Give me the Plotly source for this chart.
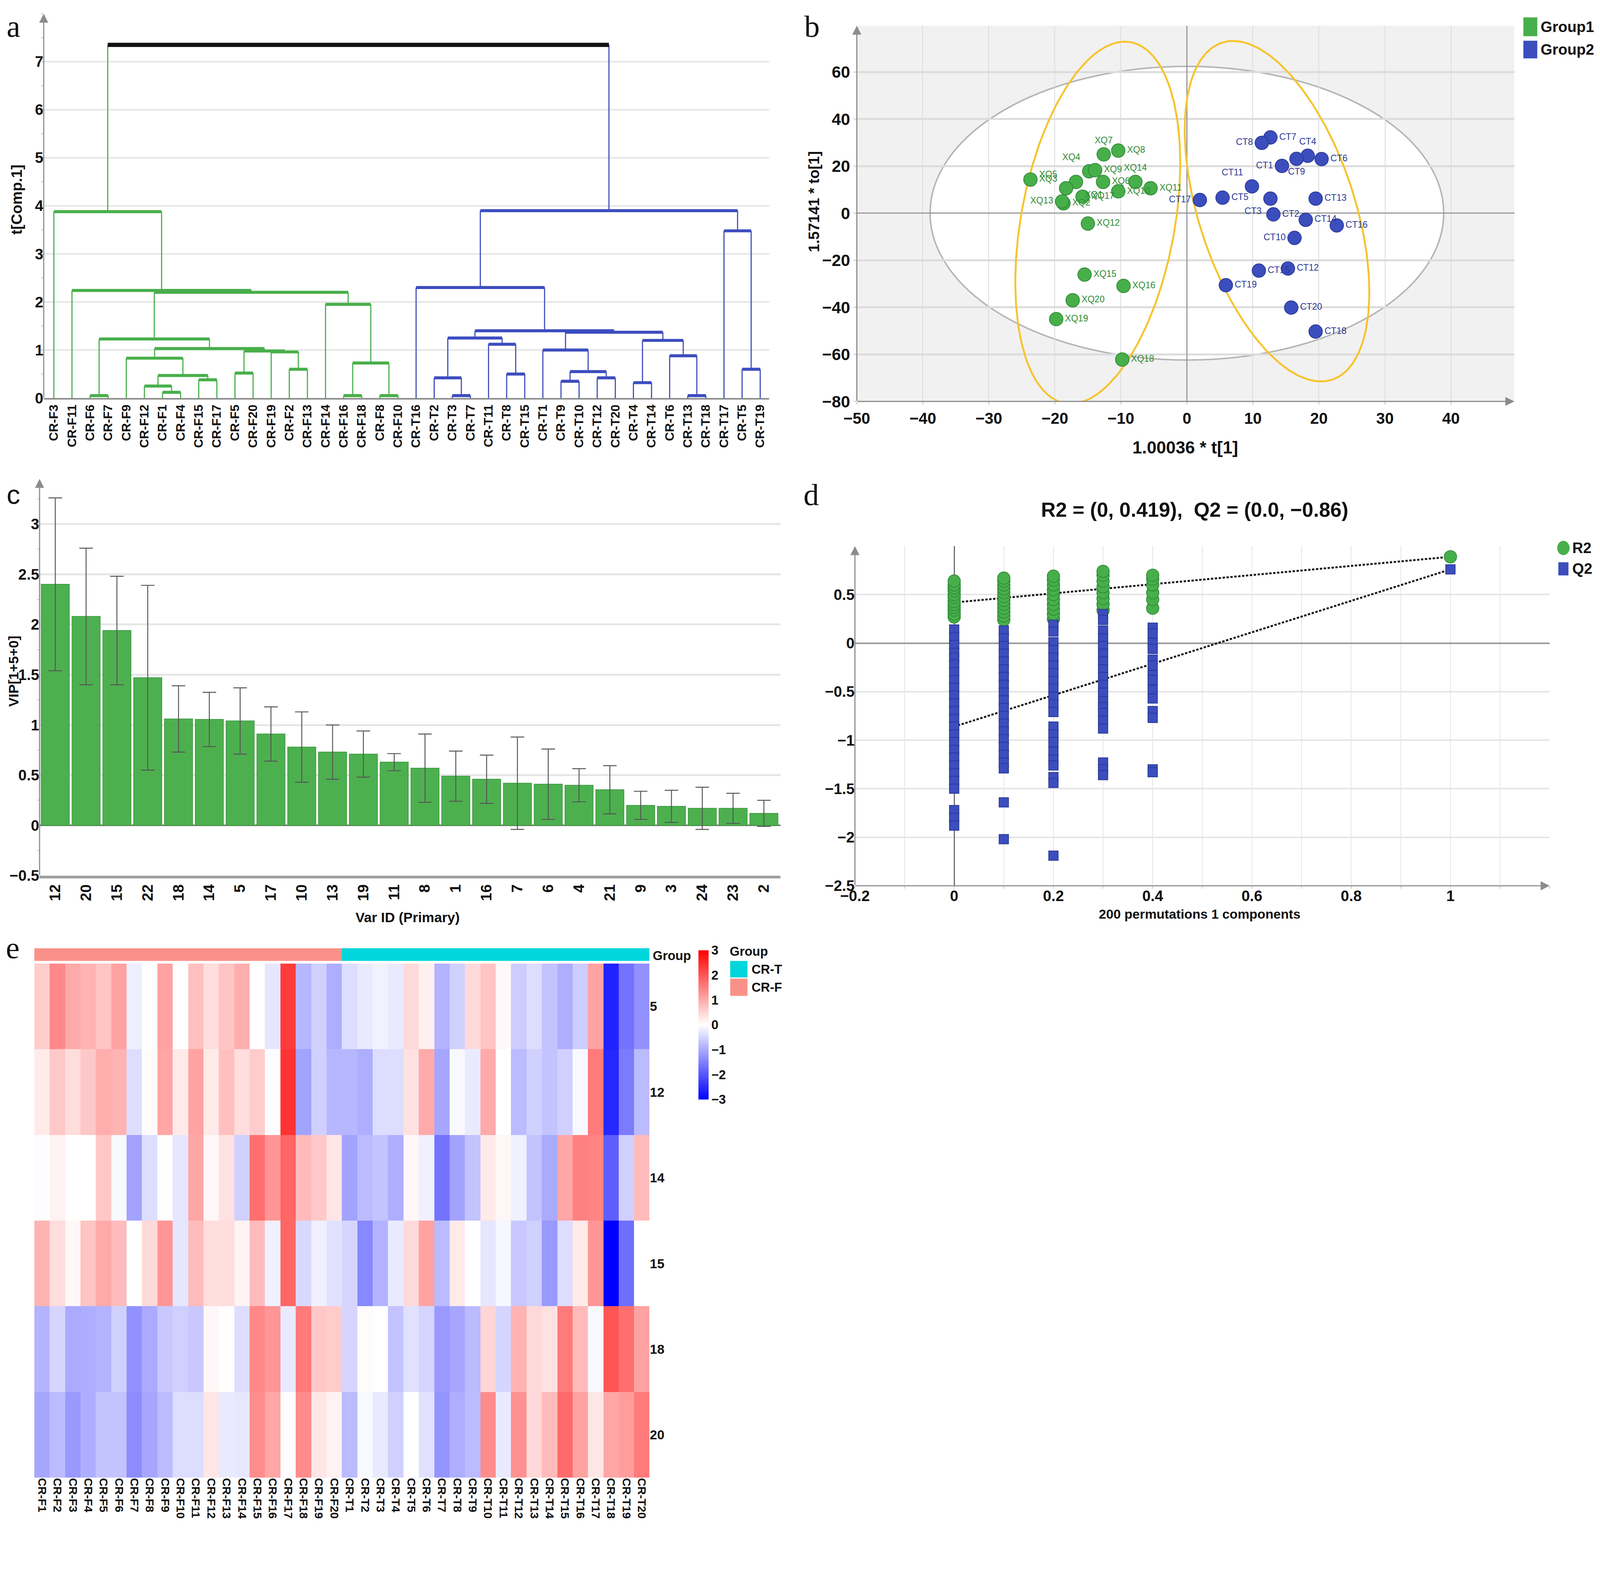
import numpy as np
import plotly.graph_objects as go

# layout is planned on the reference's 4252 x 4058 pixel grid; the page is drawn slightly
# smaller (S) so that the whole figure fits inside the visible viewport
W, H = 4252, 4058
S = 0.962


def sc(v):
    return v * S


NARROW = "Liberation Sans, Arial, sans-serif"
SANS = "Liberation Sans, Arial, sans-serif"
SERIF = "Liberation Serif, Times New Roman, serif"

GREEN = "#47AF4A"
GREEN_D = "#2F8A35"
BLUE = "#3C4DBE"
BLUE_D = "#2A3894"
SALMON = "#F99189"
CYAN = "#00D6DC"
AXIS = "#8C8C8C"
GRID = "#E6E6E6"

# ---------------- a: dendrogram (HCA) ----------------
leaves = ["CR-F3", "CR-F11", "CR-F6", "CR-F7", "CR-F9", "CR-F12", "CR-F1", "CR-F4", "CR-F15", "CR-F17",
          "CR-F5", "CR-F20", "CR-F19", "CR-F2", "CR-F13", "CR-F14", "CR-F16", "CR-F18", "CR-F8", "CR-F10",
          "CR-T16", "CR-T2", "CR-T3", "CR-T7", "CR-T11", "CR-T8", "CR-T15", "CR-T1", "CR-T9", "CR-T10",
          "CR-T12", "CR-T20", "CR-T4", "CR-T14", "CR-T6", "CR-T13", "CR-T18", "CR-T17", "CR-T5", "CR-T19"]
# (left, right, height): ids < 40 are leaves, 40 + k is the k-th merge
merges = [
    (2, 3, 0.05), (6, 7, 0.12), (5, 41, 0.25), (8, 9, 0.38), (42, 43, 0.47),
    (4, 44, 0.83), (10, 11, 0.52), (13, 14, 0.60), (12, 47, 0.96), (46, 48, 0.98),
    (45, 49, 1.03), (40, 50, 1.23), (16, 17, 0.05), (18, 19, 0.05), (52, 53, 0.73),
    (15, 54, 1.95), (51, 55, 2.20), (1, 56, 2.24), (0, 57, 3.88),
    (22, 23, 0.05), (21, 59, 0.42), (25, 26, 0.50), (24, 61, 1.12), (60, 62, 1.25),
    (28, 29, 0.35), (30, 31, 0.42), (64, 65, 0.55), (27, 66, 1.00), (32, 33, 0.32),
    (35, 36, 0.05), (34, 69, 0.88), (68, 70, 1.20), (67, 71, 1.37), (63, 72, 1.40),
    (20, 73, 2.30), (38, 39, 0.60), (37, 75, 3.48), (74, 76, 3.90), (58, 77, 7.35),
]

# ---------------- b: OPLS-DA scores ----------------
g1_names = ["XQ1", "XQ2", "XQ3", "XQ4", "XQ5", "XQ6", "XQ7", "XQ8", "XQ9", "XQ10",
            "XQ11", "XQ12", "XQ13", "XQ14", "XQ15", "XQ16", "XQ17", "XQ18", "XQ19", "XQ20"]
g1_t = [-16.8, -18.7, -23.7, -14.8, -18.3, -12.7, -12.6, -10.4, -13.9, -10.4,
        -5.5, -15.0, -18.9, -7.8, -15.5, -9.6, -15.8, -9.8, -19.8, -17.3]
g1_to = [13.3, 4.2, 14.3, 17.8, 10.6, 13.3, 25.0, 26.6, 18.3, 9.3,
         10.6, -4.4, 5.0, 13.3, -26.1, -30.9, 7.0, -62.2, -45.0, -37.0]
g2_names = ["CT1", "CT2", "CT3", "CT4", "CT5", "CT6", "CT7", "CT8", "CT9", "CT10",
            "CT11", "CT12", "CT13", "CT14", "CT15", "CT16", "CT17", "CT18", "CT19", "CT20"]
g2_t = [14.4, 13.1, 12.65, 18.3, 5.4, 20.4, 12.65, 11.35, 16.6, 16.3,
        9.85, 15.3, 19.5, 18.0, 10.9, 22.7, 1.96, 19.5, 5.9, 15.8]
g2_to = [20.1, -0.5, 6.2, 24.4, 6.6, 23.0, 32.2, 29.9, 23.1, -10.5,
         11.4, -23.5, 6.2, -2.8, -24.4, -5.2, 5.6, -50.3, -30.6, -40.1]
T2_A, T2_B = 38.9, 62.4            # Hotelling T2 ellipse half-axes
# hand-drawn highlight ellipses: centre, half major-vector, half width
highlights = [(-13.5, -4.05, 4.1, 76.95, 11.8), (13.65, 0.85, -6.65, 72.35, 12.3)]

# ---------------- c: VIP ----------------
var_ids = ["12", "20", "15", "22", "18", "14", "5", "17", "10", "13", "19", "11",
           "8", "1", "16", "7", "6", "4", "21", "9", "3", "24", "23", "2"]
vip = [2.40, 2.08, 1.94, 1.47, 1.06, 1.055, 1.04, 0.91, 0.78, 0.73, 0.71, 0.63,
       0.57, 0.49, 0.46, 0.42, 0.41, 0.40, 0.355, 0.20, 0.19, 0.17, 0.17, 0.12]
vip_err = [0.86, 0.68, 0.54, 0.92, 0.33, 0.27, 0.33, 0.27, 0.35, 0.27, 0.23, 0.085,
           0.34, 0.25, 0.24, 0.46, 0.35, 0.165, 0.24, 0.14, 0.16, 0.21, 0.15, 0.13]

# ---------------- d: permutation test ----------------
r2_perm = [
    (0.0, [0.27, 0.30, 0.34, 0.37, 0.40, 0.43, 0.47, 0.50, 0.54, 0.57, 0.60, 0.64]),
    (0.1, [0.24, 0.28, 0.32, 0.36, 0.40, 0.44, 0.48, 0.52, 0.56, 0.60, 0.64, 0.67]),
    (0.2, [0.25, 0.30, 0.35, 0.40, 0.45, 0.50, 0.55, 0.60, 0.65, 0.69]),
    (0.3, [0.34, 0.40, 0.46, 0.52, 0.58, 0.64, 0.70, 0.74]),
    (0.4, [0.36, 0.45, 0.52, 0.60, 0.66, 0.70]),
]
q2_perm = [
    (0.0, [0.14, 0.06, -0.02, -0.10, -0.15, -0.22, -0.30, -0.38, -0.46, -0.54, -0.62, -0.70, -0.78,
           -0.86, -0.94, -1.02, -1.10, -1.18, -1.26, -1.34, -1.42, -1.50, -1.72, -1.80, -1.88]),
    (0.1, [0.13, 0.05, -0.03, -0.11, -0.19, -0.27, -0.35, -0.43, -0.51, -0.59, -0.67, -0.75, -0.83,
           -0.91, -0.99, -1.07, -1.15, -1.23, -1.29, -1.64, -2.02]),
    (0.2, [0.19, 0.12, 0.01, -0.07, -0.15, -0.23, -0.31, -0.39, -0.47, -0.55, -0.63, -0.71, -0.86,
           -0.94, -1.02, -1.12, -1.20, -1.26, -1.38, -1.44, -2.19]),
    (0.3, [0.30, 0.24, 0.13, 0.05, -0.03, -0.11, -0.19, -0.27, -0.35, -0.43, -0.51, -0.60, -0.66,
           -0.72, -0.80, -0.88, -1.23, -1.30, -1.36]),
    (0.4, [0.16, 0.10, 0.00, -0.06, -0.17, -0.23, -0.33, -0.38, -0.48, -0.57, -0.70, -0.77, -1.30, -1.33]),
]
r2_orig, q2_orig = 0.89, 0.76
r2_icpt, q2_icpt = 0.419, -0.86

# ---------------- e: heatmap ----------------
samples = [f"CR-F{i}" for i in range(1, 21)] + [f"CR-T{i}" for i in range(1, 21)]
hm_rows = ["5", "12", "14", "15", "18", "20"]
z5 = [0.6, 1.4, 1.0, 0.9, 0.7, 1.1, -0.2, 0.0, 1.1, 0.0, 0.75, 0.4, 0.7, 0.95, 0.0, -0.3, 2.3, -0.85, -0.55, -0.95,
      -0.4, -0.25, -0.15, -0.25, 0.45, 0.18, -0.9, -0.55, 0.45, 0.7, 0.08, -0.6, -0.4, -0.7, -0.95, -0.6, 1.1, -2.6, -1.65, -1.3]
z12 = [0.25, 0.65, 0.4, 0.65, 0.95, 0.9, -0.4, 0.05, 1.05, 0.25, 1.1, 0.25, 0.75, 0.4, 0.6, -0.02, 2.4, -1.1, -0.55, -0.85,
       -0.85, -0.95, -0.4, -0.4, 0.35, 1.0, -1.05, -0.08, -0.25, 1.0, 0.0, -0.8, -0.55, -0.7, -0.55, -0.08, 1.55, -2.55, -1.55, -0.8]
z14 = [-0.02, 0.15, 0.0, 0.0, 0.65, -0.08, -1.1, -0.4, 0.02, -0.3, 1.05, 0.1, 0.35, -0.55, 1.7, 1.25, 1.8, 0.8, 0.65, 0.3,
       -1.1, -0.8, -0.7, -0.95, 0.1, -0.18, -1.65, -1.1, -0.7, 0.25, 0.1, -0.18, -0.7, -1.0, 1.05, 1.5, 1.45, -1.9, -0.55, 0.8]
z15 = [0.9, 0.4, 0.08, 0.7, 1.0, 0.8, 0.0, 0.45, 1.25, -0.3, 0.8, 0.4, 0.4, 0.15, 0.8, -0.18, 1.8, -0.45, -0.18, -0.35,
       -0.5, -1.4, -0.9, -0.25, 0.45, 1.1, -0.8, 0.25, 0.0, -0.3, -0.1, -0.65, -0.55, -1.2, -0.4, 0.25, 1.25, -3.0, -1.7, 0.0]
z18 = [-0.9, -0.5, -1.0, -0.95, -0.9, -0.55, -1.3, -1.0, -0.65, -0.55, -0.65, 0.1, 0.02, -0.4, 1.4, 1.25, -0.25, 1.55, 0.65, 0.6,
       -0.5, 0.05, 0.0, -0.7, -0.35, -0.5, -1.2, -1.05, -0.8, 0.5, -0.5, 0.9, 0.45, 0.35, 1.55, 0.8, -0.08, 2.0, 1.7, 1.1]
z20 = [-1.05, -0.8, -1.2, -0.95, -0.7, -0.7, -1.35, -1.05, -0.8, -0.4, -0.4, 0.3, -0.25, -0.28, 1.35, 1.05, -0.02, 1.35, 0.3, 0.15,
       -0.8, -0.08, -0.25, -0.55, 0.0, -0.35, -1.25, -0.95, -0.8, 1.35, -0.25, 1.3, 0.45, 0.8, 1.75, 1.1, 0.3, 1.05, 1.15, 1.55]


def xd(a, b):
    return [a / W, b / W]


def yd(top, bottom):
    return [1 - bottom / H, 1 - top / H]


fig = go.Figure()

# ---- a: build link segments from the merge table
n = len(leaves)
xpos = {i: float(i) for i in range(n)}
hpos = {i: 0.0 for i in range(n)}
side = {i: leaves[i].split("-")[1][0] for i in range(n)}
hseg = {"F": ([], []), "T": ([], []), "root": ([], [])}
vseg = {"F": ([], []), "T": ([], []), "root": ([], [])}
for k, (l, r, h) in enumerate(merges):
    nid = n + k
    s = side[l] if side[l] == side[r] else "root"
    for c in (l, r):
        vseg[side[c]][0].extend([xpos[c], xpos[c], None])
        vseg[side[c]][1].extend([hpos[c], h, None])
    hseg[s][0].extend([xpos[l], xpos[r], None])
    hseg[s][1].extend([h, h, None])
    xpos[nid] = (xpos[l] + xpos[r]) / 2
    hpos[nid] = h
    side[nid] = s

colmap = {"F": GREEN, "T": BLUE, "root": "#111111"}
for s in ("F", "T"):
    fig.add_trace(go.Scatter(x=vseg[s][0], y=vseg[s][1], mode="lines", line=dict(color=colmap[s], width=sc(3)),
                             xaxis="x", yaxis="y", showlegend=False, hoverinfo="skip"))
for s, wdt in (("F", 8), ("T", 8), ("root", 11)):
    fig.add_trace(go.Scatter(x=hseg[s][0], y=hseg[s][1], mode="lines", line=dict(color=colmap[s], width=sc(wdt)),
                             xaxis="x", yaxis="y", showlegend=False, hoverinfo="skip"))

# ---- b: scores
t = np.linspace(0, 2 * np.pi, 240)
for cx, cy, vx, vy, w in highlights:
    fig.add_trace(go.Scatter(x=cx + vx * np.cos(t) + w * np.sin(t), y=cy + vy * np.cos(t), mode="lines",
                             line=dict(color="#F6C42C", width=sc(5)), xaxis="x2", yaxis="y2",
                             showlegend=False, hoverinfo="skip"))

pos1 = {"XQ4": "top left", "XQ7": "top center", "XQ13": "middle left", "XQ14": "top center",
        "XQ5": "top left", "XQ1": "bottom right"}
pos2 = {"CT8": "middle left", "CT11": "top left", "CT1": "middle left", "CT9": "bottom center",
        "CT4": "top center", "CT3": "bottom left", "CT10": "middle left", "CT17": "middle left"}
fig.add_trace(go.Scatter(x=g1_t, y=g1_to, mode="markers+text", text=g1_names,
                         textposition=[pos1.get(s, "middle right") for s in g1_names],
                         textfont=dict(family=NARROW, size=sc(24), color=GREEN_D),
                         marker=dict(size=sc(36), color=GREEN, line=dict(color=GREEN_D, width=sc(2))),
                         xaxis="x2", yaxis="y2", showlegend=False, cliponaxis=False))
fig.add_trace(go.Scatter(x=g2_t, y=g2_to, mode="markers+text", text=g2_names,
                         textposition=[pos2.get(s, "middle right") for s in g2_names],
                         textfont=dict(family=NARROW, size=sc(24), color=BLUE_D),
                         marker=dict(size=sc(36), color=BLUE, line=dict(color=BLUE_D, width=sc(2))),
                         xaxis="x2", yaxis="y2", showlegend=False, cliponaxis=False))

# ---- c: VIP bars
fig.add_trace(go.Bar(x=var_ids, y=vip, marker=dict(color="#4DB04F", line=dict(color="#3E9A41", width=sc(2))),
                     error_y=dict(type="data", array=vip_err, color="#555555", thickness=sc(2.5), width=sc(18)),
                     xaxis="x3", yaxis="y3", showlegend=False))

# ---- d: permutations
rx, ry, qx, qy = [], [], [], []
for xv, vals in r2_perm:
    rx += [xv] * len(vals)
    ry += vals
for xv, vals in q2_perm:
    qx += [xv] * len(vals)
    qy += vals
for y0, y1 in ((r2_icpt, r2_orig), (q2_icpt, q2_orig)):
    fig.add_trace(go.Scatter(x=[0, 1], y=[y0, y1], mode="lines",
                             line=dict(color="#111111", width=sc(5), dash="6px,4px"),
                             xaxis="x4", yaxis="y4", showlegend=False))
fig.add_trace(go.Scatter(x=rx + [1.0], y=ry + [r2_orig], mode="markers",
                         marker=dict(symbol="circle", size=sc(33), color=GREEN,
                                     line=dict(color=GREEN_D, width=sc(2))),
                         xaxis="x4", yaxis="y4", showlegend=False, cliponaxis=False))
fig.add_trace(go.Scatter(x=qx + [1.0], y=qy + [q2_orig], mode="markers",
                         marker=dict(symbol="square", size=sc(25), color=BLUE,
                                     line=dict(color=BLUE_D, width=sc(2))),
                         xaxis="x4", yaxis="y4", showlegend=False, cliponaxis=False))

# ---- e: heatmap + group bar
fig.add_trace(go.Heatmap(z=[z5, z12, z14, z15, z18, z20], x=samples, y=hm_rows,
                         colorscale=[[0, "#0000FF"], [0.5, "#FFFFFF"], [1, "#FF0000"]], zmin=-3, zmax=3,
                         xaxis="x5", yaxis="y5",
                         colorbar=dict(x=1840 / W, xanchor="left", y=1 - 2510 / H, yanchor="top",
                                       len=418 / H, lenmode="fraction", thickness=sc(27), thicknessmode="pixels",
                                       tickvals=[-3, -2, -1, 0, 1, 2, 3], ticks="", outlinewidth=0,
                                       tickfont=dict(family=SANS, size=sc(34), weight="bold", color="#111"))))
grp = [0 if s.startswith("CR-F") else 1 for s in samples]
fig.add_trace(go.Heatmap(z=[grp], x=samples, y=["Group"], showscale=False,
                         colorscale=[[0, SALMON], [0.5, SALMON], [0.5, CYAN], [1, CYAN]], zmin=0, zmax=1,
                         xaxis="x6", yaxis="y6"))

# ---------------- layout ----------------
tick_narrow = lambda s: dict(family=NARROW, size=sc(s), weight="bold", color="#111")
tick_sans = lambda s: dict(family=SANS, size=sc(s), weight="bold", color="#111")

fig.update_layout(
    width=round(W * S), height=round(H * S), margin=dict(l=0, r=0, t=0, b=0, autoexpand=False),
    paper_bgcolor="white", plot_bgcolor="white", showlegend=False,
    xaxis=dict(domain=xd(108, 2039), range=[-0.56, 39.5], tickvals=list(range(n)), ticktext=leaves,
               tickangle=-90, tickfont=tick_sans(33), showgrid=False, zeroline=False,
               showline=True, linecolor=AXIS, linewidth=sc(4), ticks=""),
    yaxis=dict(domain=yd(28, 1051), range=[0, 8.0], tickvals=list(range(8)), tickfont=tick_narrow(40),
               showgrid=True, gridcolor=GRID, gridwidth=sc(4), zeroline=False, ticks="",
               minor=dict(dtick=0.5, ticks="outside", ticklen=sc(6), tickcolor=AXIS, showgrid=False)),
    xaxis2=dict(domain=xd(2272, 4022), range=[-50, 49.6], dtick=10, tickfont=tick_narrow(42),
                showgrid=True, gridcolor="#DCDCDC", gridwidth=sc(2), zeroline=True, zerolinecolor="#9A9A9A",
                zerolinewidth=sc(3), ticks="outside", ticklen=sc(8), tickcolor=AXIS, anchor="y2"),
    yaxis2=dict(domain=yd(60, 1060), range=[-80, 79.7], dtick=20, tickfont=tick_narrow(44),
                showgrid=True, gridcolor="#DCDCDC", gridwidth=sc(5), zeroline=True, zerolinecolor="#9A9A9A",
                zerolinewidth=sc(3), ticks="outside", ticklen=sc(8), tickcolor=AXIS, anchor="x2"),
    xaxis3=dict(domain=xd(97, 2069), range=[-0.51, 23.54], type="category", tickangle=-90,
                tickfont=tick_sans(40), showgrid=False, zeroline=False, showline=True,
                linecolor="#A0A0A0", linewidth=sc(7), ticks="", anchor="y3"),
    yaxis3=dict(domain=yd(1266, 2322), range=[-0.5, 3.45], dtick=0.5, tickfont=tick_narrow(40),
                showgrid=True, gridcolor=GRID, gridwidth=sc(5), zeroline=True, zerolinecolor="#7A7A7A",
                zerolinewidth=sc(4), ticks="", anchor="x3",
                minor=dict(dtick=0.25, ticks="outside", ticklen=sc(5), tickcolor=AXIS, showgrid=False)),
    bargap=0.09,
    xaxis4=dict(domain=xd(2267, 4116), range=[-0.2, 1.2], tickvals=[-0.2, 0, 0.2, 0.4, 0.6, 0.8, 1],
                ticktext=["−0.2", "0", "0.2", "0.4", "0.6", "0.8", "1"], tickfont=tick_narrow(40),
                showgrid=False, zeroline=True, zerolinecolor="#333333", zerolinewidth=sc(2), ticks="",
                anchor="y4", minor=dict(dtick=0.1, showgrid=True, gridcolor=GRID, gridwidth=sc(2),
                                        ticks="outside", ticklen=sc(6), tickcolor=AXIS)),
    yaxis4=dict(domain=yd(1445, 2349), range=[-2.5, 1.0], tickvals=[-2.5, -2, -1.5, -1, -0.5, 0, 0.5],
                tickfont=tick_narrow(40),
                showgrid=True, gridcolor=GRID, gridwidth=sc(4), zeroline=True, zerolinecolor="#9A9A9A",
                zerolinewidth=sc(4), ticks="", anchor="x4"),
    xaxis5=dict(domain=xd(83, 1720), type="category", tickangle=90, tickfont=tick_sans(31),
                showgrid=False, zeroline=False, ticks="", anchor="y5"),
    yaxis5=dict(domain=yd(2556, 3924), type="category", autorange="reversed", side="right",
                tickfont=tick_sans(35), showgrid=False, zeroline=False, ticks="", anchor="x5"),
    xaxis6=dict(domain=xd(83, 1720), type="category", showticklabels=False, showgrid=False,
                zeroline=False, anchor="y6"),
    yaxis6=dict(domain=yd(2515, 2549), showticklabels=False, showgrid=False, zeroline=False, anchor="x6"),
)
# keep every panel exactly where it is placed
fig.update_xaxes(automargin=False)
fig.update_yaxes(automargin=False)

shapes = [
    # b: grey field and white Hotelling T2 ellipse under the grid
    dict(type="rect", xref="x2", yref="y2", x0=-50, x1=49.6, y0=-80, y1=79.7,
         fillcolor="#F1F1F1", line=dict(width=0), layer="below"),
    dict(type="circle", xref="x2", yref="y2", x0=-T2_A, x1=T2_A, y0=-T2_B, y1=T2_B,
         fillcolor="white", line=dict(color="#B5B5B5", width=sc(4)), layer="below"),
]


def prect(x0, x1, y0, y1, color, kind="rect"):
    return dict(type=kind, xref="paper", yref="paper", x0=x0 / W, x1=x1 / W, y0=1 - y1 / H, y1=1 - y0 / H,
                fillcolor=color, line=dict(width=0))


shapes += [prect(4046, 4083, 38, 88, GREEN), prect(4046, 4083, 100, 147, BLUE),
           prect(4136, 4169, 1431, 1469, GREEN, "circle"), prect(4139, 4166, 1488, 1523, BLUE),
           prect(1935, 1981, 2549, 2593, CYAN), prect(1935, 1981, 2596, 2642, SALMON)]
fig.update_layout(shapes=shapes)


def arrow(xr, yr, x, y, ax, ay):
    return dict(xref=xr, yref=yr, axref=xr, ayref=yr, x=x, y=y, ax=ax, ay=ay, text="", showarrow=True,
                arrowhead=2, arrowsize=1.6, arrowwidth=sc(3), arrowcolor=AXIS)


def ptext(x, y, text, font, xa="center", ya="middle", angle=0):
    return dict(xref="paper", yref="paper", x=x / W, y=1 - y / H, text=text, showarrow=False,
                xanchor=xa, yanchor=ya, textangle=angle, font=font)


lab = dict(family=SERIF, size=sc(82), color="#111")
ann = [
    arrow("x", "y", -0.56, 8.0, -0.56, 0),
    arrow("x2", "y2", -50, 79.7, -50, -80),
    arrow("x2", "y2", 49.6, -80, -50, -80),
    arrow("x3", "y3", -0.51, 3.45, -0.51, -0.5),
    arrow("x4", "y4", -0.2, 1.0, -0.2, -2.5),
    arrow("x4", "y4", 1.2, -2.5, -0.2, -2.5),
    ptext(7, 62, "a", lab, xa="left"),
    ptext(2130, 62, "b", lab, xa="left"),
    ptext(7, 1308, "c", dict(family=SANS, size=sc(72), color="#111"), xa="left"),
    ptext(2128, 1308, "d", lab, xa="left"),
    ptext(5, 2514, "e", lab, xa="left"),
    ptext(35, 523, "t[Comp.1]", tick_sans(40), angle=-90),
    ptext(2158, 528, "1.57141 * to[1]", tick_sans(40), angle=-90),
    ptext(3146, 1182, "1.00036 * t[1]", tick_narrow(46)),
    ptext(28, 1778, "VIP[1+5+0]", tick_sans(37), angle=-90),
    ptext(1077, 2433, "Var ID (Primary)", tick_narrow(37)),
    ptext(3184, 2424, "200 permutations 1 components", tick_narrow(35)),
    ptext(3171, 1348, "R2 = (0, 0.419),  Q2 = (0.0, −0.86)", tick_narrow(54)),
    ptext(4090, 63, "Group1", tick_narrow(40), xa="left"),
    ptext(4090, 123, "Group2", tick_narrow(40), xa="left"),
    ptext(4174, 1450, "R2", tick_narrow(40), xa="left"),
    ptext(4174, 1505, "Q2", tick_narrow(40), xa="left"),
    ptext(1727, 2535, "Group", tick_sans(34), xa="left"),
    ptext(1932, 2523, "Group", tick_sans(34), xa="left"),
    ptext(1990, 2571, "CR-T", tick_sans(34), xa="left"),
    ptext(1990, 2619, "CR-F", tick_sans(34), xa="left"),
]
fig.update_layout(annotations=ann)

fig.write_html("out.html")
